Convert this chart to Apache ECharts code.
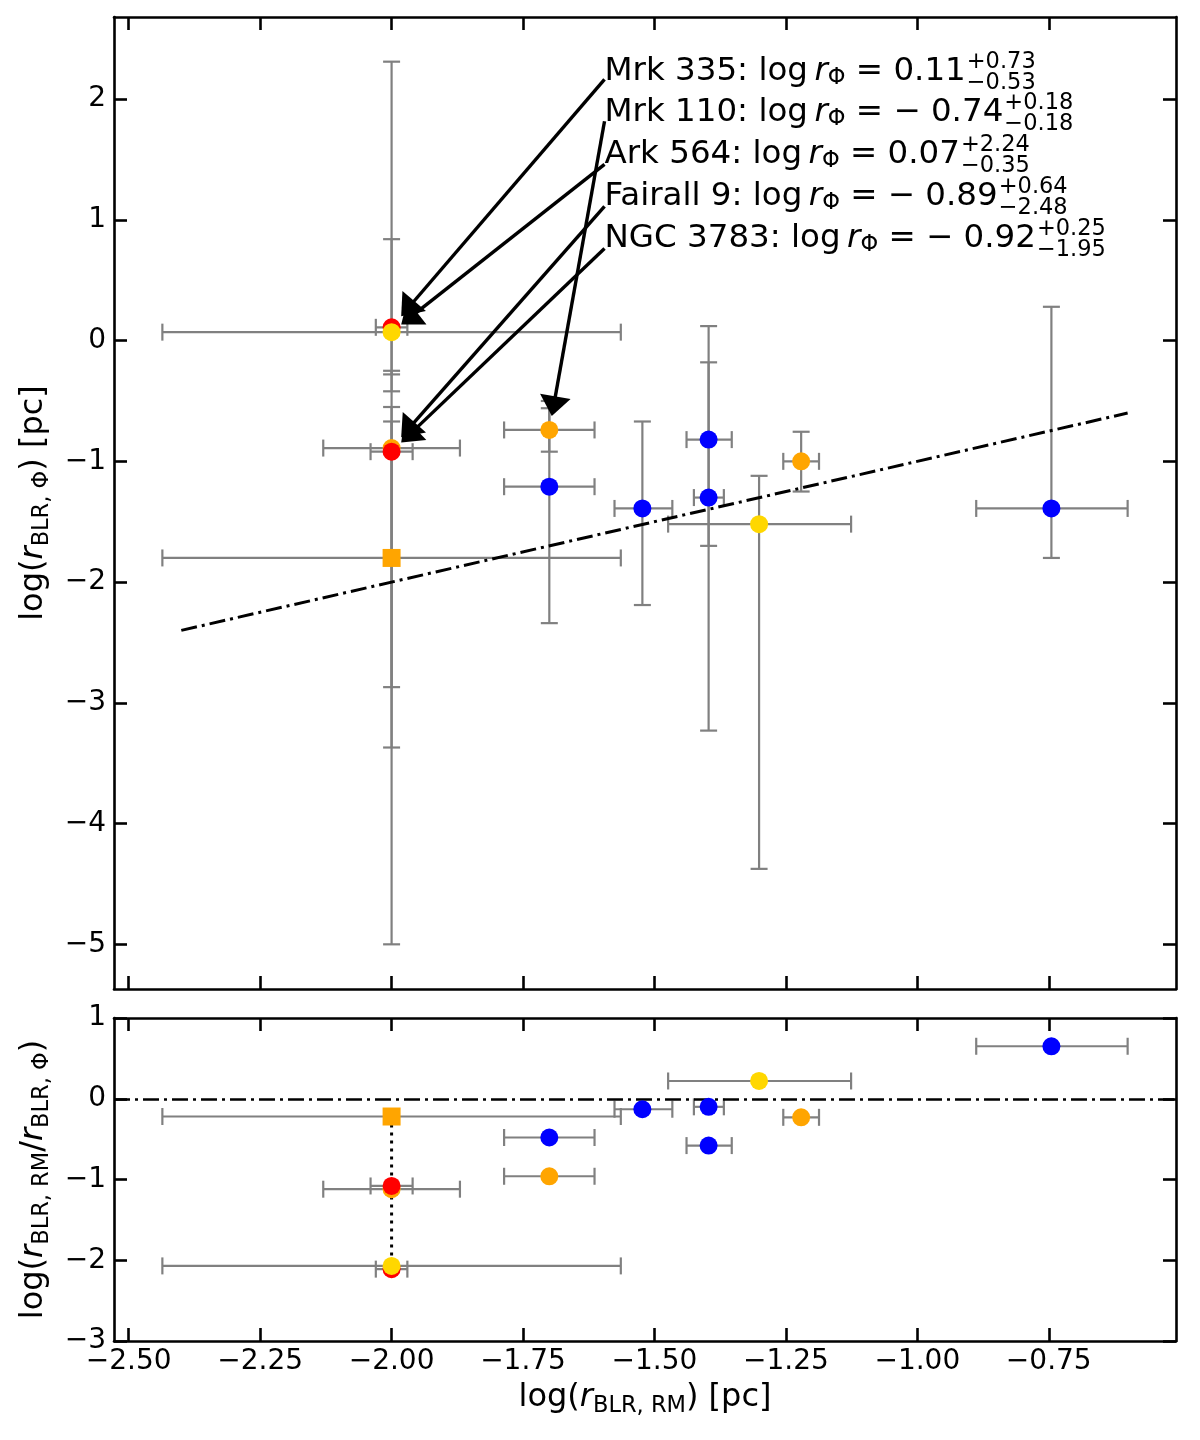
<!DOCTYPE html>
<html><head><meta charset="utf-8">
<script src="https://cdn.jsdelivr.net/npm/echarts@6/dist/echarts.min.js"></script>
<style>html,body{margin:0;padding:0;background:#fff}#c{width:1200px;height:1440px}</style>
</head><body><div id="c"></div>
<script>
// ---------------- data ----------------
const xTicks = [-2.5, -2.25, -2.0, -1.75, -1.5, -1.25, -1.0, -0.75];
const yTopTicks = [-5, -4, -3, -2, -1, 0, 1, 2];
const yBotTicks = [-3, -2, -1, 0, 1];

// blue points
const blueX       = [-1.70, -1.523, -1.397, -1.397, -0.745];
const blueXErrLo  = [0.086, 0.053, 0.042, 0.028, 0.143];
const blueXErrHi  = [0.086, 0.057, 0.044, 0.029, 0.145];
const blueY       = [-1.21, -1.39, -0.82, -1.30, -1.39];
const blueYErrLo  = [1.13, 0.80, 0.88, 1.93, 0.41];
const blueYErrHi  = [0.71, 0.72, 0.64, 1.42, 1.67];
const blueRatio   = [-0.48, -0.13, -0.58, -0.10, 0.65];

// orange circles (Fairall 9, Mrk 110, other)
const orangeX      = [-2.00, -1.70, -1.221];
const orangeXErrLo = [0.13, 0.086, 0.034];
const orangeXErrHi = [0.13, 0.086, 0.034];
const orangeY      = [-0.89, -0.74, -1.00];
const orangeYErrLo = [2.48, 0.18, 0.25];
const orangeYErrHi = [0.64, 0.18, 0.245];
const orangeRatio  = [-1.12, -0.96, -0.23];

// orange square
const squareX      = [-2.00];
const squareXErrLo = [0.436];
const squareXErrHi = [0.436];
const squareY      = [-1.80];
const squareYErrLo = [3.20];
const squareYErrHi = [1.25];
const squareRatio  = [-0.22];

// red (Mrk 335, NGC 3783)
const redX      = [-2.00, -2.00];
const redXErrLo = [0.03, 0.04];
const redXErrHi = [0.03, 0.04];
const redY      = [0.11, -0.92];
const redYErrLo = [0.53, 1.95];
const redYErrHi = [0.73, 0.25];
const redRatio  = [-2.11, -1.08];

// yellow (Ark 564, other)
const yellowX      = [-2.00, -1.301];
const yellowXErrLo = [0.436, 0.173];
const yellowXErrHi = [0.436, 0.175];
const yellowY      = [0.07, -1.52];
const yellowYErrLo = [0.35, 2.855];
const yellowYErrHi = [2.24, 0.40];
const yellowRatio  = [-2.07, 0.22];

// fitted relation and guide lines
const fitX = [-2.4, -0.6];
const fitY = [-2.4, -0.6];
const linkX = [-2.00, -2.00];
const linkY = [-0.22, -2.07];

// annotations
const annNames   = ['Mrk 335', 'Mrk 110', 'Ark 564', 'Fairall 9', 'NGC 3783'];
const annValues  = ['0.11', '\u2212 0.74', '0.07', '\u2212 0.89', '\u2212 0.92'];
const annUp      = ['+0.73', '+0.18', '+2.24', '+0.64', '+0.25'];
const annDown    = ['\u22120.53', '\u22120.18', '\u22120.35', '\u22122.48', '\u22121.95'];
const annTextX   = -1.595;
const annTextY   = [2.23, 1.885, 1.537, 1.19, 0.845];
const annTailX   = -1.595;
const annTailY   = [2.164, 1.816, 1.459, 1.111, 0.763];
const annTargetX = [-2.00, -1.70, -2.00, -2.00, -2.00];
const annTargetY = [0.11, -0.74, 0.07, -0.89, -0.92];

// ---------------- helpers ----------------
const FF = 'DejaVu Sans';
const fmtX = v => (v < 0 ? '\u2212' : '') + Math.abs(v).toFixed(2);
const fmtY = v => (v < 0 ? '\u2212' : '') + Math.abs(Math.round(v));

const mctx = document.createElement('canvas').getContext('2d');
function tw(text, size, style) {
  mctx.font = (style || 'normal') + ' ' + size + 'px "' + FF + '"';
  return mctx.measureText(text).width;
}

const groups = [
  {color: '#ffa500', symbol: 'rect', X: squareX, XL: squareXErrLo, XH: squareXErrHi, Y: squareY, YL: squareYErrLo, YH: squareYErrHi, R: squareRatio},
  {color: '#0000ff', symbol: 'circle', X: blueX, XL: blueXErrLo, XH: blueXErrHi, Y: blueY, YL: blueYErrLo, YH: blueYErrHi, R: blueRatio},
  {color: '#ffa500', symbol: 'circle', X: orangeX, XL: orangeXErrLo, XH: orangeXErrHi, Y: orangeY, YL: orangeYErrLo, YH: orangeYErrHi, R: orangeRatio},
  {color: '#ff0000', symbol: 'circle', X: redX, XL: redXErrLo, XH: redXErrHi, Y: redY, YL: redYErrLo, YH: redYErrHi, R: redRatio},
  {color: '#ffd700', symbol: 'circle', X: yellowX, XL: yellowXErrLo, XH: yellowXErrHi, Y: yellowY, YL: yellowYErrLo, YH: yellowYErrHi, R: yellowRatio}
];

const errTop = [], errBot = [];
groups.forEach(g => {
  g.X.forEach((x, i) => {
    errTop.push([x, g.Y[i], g.XL[i], g.XH[i], g.YL[i], g.YH[i]]);
    errBot.push([x, g.R[i], g.XL[i], g.XH[i], 0, 0]);
  });
});

const ERR_STYLE = {stroke: '#808080', lineWidth: 2.2};
const CAP = 8.5;
function errRender(withY) {
  return function (params, api) {
    const x = api.value(0), y = api.value(1);
    const L = api.coord([x - api.value(2), y]);
    const R = api.coord([x + api.value(3), y]);
    const ch = [
      {type: 'line', shape: {x1: L[0], y1: L[1], x2: R[0], y2: R[1]}, style: ERR_STYLE},
      {type: 'line', shape: {x1: L[0], y1: L[1] - CAP, x2: L[0], y2: L[1] + CAP}, style: ERR_STYLE},
      {type: 'line', shape: {x1: R[0], y1: R[1] - CAP, x2: R[0], y2: R[1] + CAP}, style: ERR_STYLE}
    ];
    if (withY) {
      const B = api.coord([x, y - api.value(4)]);
      const T = api.coord([x, y + api.value(5)]);
      ch.push({type: 'line', shape: {x1: B[0], y1: B[1], x2: T[0], y2: T[1]}, style: ERR_STYLE});
      ch.push({type: 'line', shape: {x1: B[0] - CAP, y1: B[1], x2: B[0] + CAP, y2: B[1]}, style: ERR_STYLE});
      ch.push({type: 'line', shape: {x1: T[0] - CAP, y1: T[1], x2: T[0] + CAP, y2: T[1]}, style: ERR_STYLE});
    }
    return {type: 'group', children: ch};
  };
}

const MAIN = 32.5, SCR = 22.5, SHRINK = 0.045;
function annRender(params, api) {
  const i = params.dataIndex;
  const tail = api.coord([annTailX, annTailY[i]]);
  const tgt = api.coord([annTargetX[i], annTargetY[i]]);
  const tip = [tgt[0] + (tail[0] - tgt[0]) * SHRINK, tgt[1] + (tail[1] - tgt[1]) * SHRINK];
  const dx = tip[0] - tail[0], dy = tip[1] - tail[1];
  const len = Math.hypot(dx, dy);
  const ux = dx / len, uy = dy / len, nx = -uy, ny = ux;
  const HL = 20, HW = 31;
  const base = [tip[0] - ux * HL, tip[1] - uy * HL];
  const tp = api.coord([annTextX, annTextY[i]]);
  const s1 = annNames[i] + ': log\u2009', s2 = 'r', s3 = '\u03a6', s4 = ' = ' + annValues[i];
  const w = tw(s1, MAIN) + tw(s2, MAIN, 'italic') + tw(s3, SCR) + tw(s4, MAIN);
  return {type: 'group', children: [
    {type: 'line', shape: {x1: tail[0], y1: tail[1], x2: base[0] + ux * 2, y2: base[1] + uy * 2},
      style: {stroke: '#000', lineWidth: 3.4}},
    {type: 'polygon', shape: {points: [tip, [base[0] + nx * HW / 2, base[1] + ny * HW / 2], [base[0] - nx * HW / 2, base[1] - ny * HW / 2]]},
      style: {fill: '#000'}},
    {type: 'text', x: tp[0], y: tp[1], style: {
      text: '{a|' + s1 + '}{i|' + s2 + '}{s|' + s3 + '}{a|' + s4 + '}',
      align: 'left', verticalAlign: 'middle', fill: '#000',
      rich: {
        a: {fontSize: MAIN, fontFamily: FF, lineHeight: 36, fill: '#000'},
        i: {fontSize: MAIN, fontFamily: FF, fontStyle: 'italic', lineHeight: 36, fill: '#000'},
        s: {fontSize: SCR, fontFamily: FF, lineHeight: 22, verticalAlign: 'bottom', fill: '#000'}
      }}},
    {type: 'text', x: tp[0] + w + 1, y: tp[1] + 1, style: {
      text: annUp[i] + '\n' + annDown[i], align: 'left', verticalAlign: 'middle',
      fontSize: SCR, fontFamily: FF, lineHeight: 21, fill: '#000'}}
  ]};
}

// ---------------- axes ----------------
const AX_LINE = {show: true, onZero: false, lineStyle: {color: '#000', width: 2.6}};
function xAx(grid, pos, labels, name) {
  return {
    type: 'value', gridIndex: grid, position: pos, min: -2.528, max: -0.508,
    splitLine: {show: false}, axisLine: AX_LINE,
    axisTick: {show: true, inside: true, length: 13, lineStyle: {color: '#000', width: 2.6}, customValues: xTicks},
    axisLabel: {show: labels, customValues: xTicks, formatter: fmtX, fontSize: 28, fontFamily: FF, color: '#000', margin: 7},
    name: name || '', nameLocation: 'middle', nameGap: 37,
    nameTextStyle: nameStyle()
  };
}
function yAx(grid, pos, labels, min, max, ticks, name) {
  return {
    type: 'value', gridIndex: grid, position: pos, min: min, max: max,
    splitLine: {show: false}, axisLine: AX_LINE,
    axisTick: {show: true, inside: true, length: 13, lineStyle: {color: '#000', width: 2.6}, customValues: ticks},
    axisLabel: {show: labels, customValues: ticks, formatter: fmtY, fontSize: 28, fontFamily: FF, color: '#000', margin: 8},
    name: name || '', nameLocation: 'middle', nameGap: 56,
    nameTextStyle: nameStyle()
  };
}
function nameStyle() {
  return {
    fontSize: 32, fontFamily: FF, color: '#000',
    rich: {
      a: {fontSize: 32, fontFamily: FF, color: '#000', lineHeight: 40},
      i: {fontSize: 32, fontFamily: FF, color: '#000', fontStyle: 'italic', lineHeight: 40},
      s: {fontSize: 22.5, fontFamily: FF, color: '#000', lineHeight: 22, verticalAlign: 'bottom'}
    }
  };
}

const scatterTop = groups.map((g, k) => ({
  type: 'scatter', xAxisIndex: 0, yAxisIndex: 0, z: 4 + k, symbol: g.symbol, symbolSize: 18,
  itemStyle: {color: g.color, opacity: 1}, data: g.X.map((x, i) => [x, g.Y[i]]), silent: true
}));
const scatterBot = groups.map((g, k) => ({
  type: 'scatter', xAxisIndex: 2, yAxisIndex: 2, z: 4 + k, symbol: g.symbol, symbolSize: 18,
  itemStyle: {color: g.color, opacity: 1}, data: g.X.map((x, i) => [x, g.R[i]]), silent: true
}));

const option = {
  animation: false,
  backgroundColor: '#fff',
  grid: [
    {left: 114, top: 17, width: 1062, height: 972},
    {left: 114, top: 1018, width: 1062, height: 323}
  ],
  xAxis: [
    xAx(0, 'bottom', false),
    xAx(0, 'top', false),
    xAx(1, 'bottom', true, '{a|log(}{i|r}{s|BLR, RM}{a|) [pc]}'),
    xAx(1, 'top', false)
  ],
  yAxis: [
    yAx(0, 'left', true, -5.37, 2.68, yTopTicks, '{a|log(}{i|r}{s|BLR, \u03a6}{a|) [pc]}'),
    yAx(0, 'right', false, -5.37, 2.68, yTopTicks),
    yAx(1, 'left', true, -3, 1, yBotTicks, '{a|log(}{i|r}{s|BLR, RM}{a|/}{i|r}{s|BLR, \u03a6}{a|)}'),
    yAx(1, 'right', false, -3, 1, yBotTicks)
  ],
  series: [
    {type: 'custom', xAxisIndex: 0, yAxisIndex: 0, z: 2, renderItem: errRender(true), data: errTop, silent: true},
    {type: 'custom', xAxisIndex: 2, yAxisIndex: 2, z: 2, renderItem: errRender(false), data: errBot, silent: true},
    {type: 'line', xAxisIndex: 0, yAxisIndex: 0, z: 3, showSymbol: false, symbol: 'none',
      data: fitX.map((x, i) => [x, fitY[i]]), lineStyle: {color: '#000', width: 3, type: [16, 5, 3, 5]}, silent: true},
    {type: 'line', xAxisIndex: 2, yAxisIndex: 2, z: 3, showSymbol: false, symbol: 'none',
      data: linkX.map((x, i) => [x, linkY[i]]), lineStyle: {color: '#000', width: 3, type: [3, 5]}, silent: true,
      markLine: {silent: true, symbol: ['none', 'none'], label: {show: false},
        lineStyle: {color: '#000', width: 2.5, type: [16, 5, 3, 5]}, data: [{yAxis: 0}]}},
    ...scatterTop,
    ...scatterBot,
    {type: 'custom', xAxisIndex: 0, yAxisIndex: 0, z: 20, renderItem: annRender,
      data: annNames.map((n, i) => [annTextX, annTextY[i]]), silent: true}
  ]
};

const chart = echarts.init(document.getElementById('c'), null, {renderer: 'canvas', width: 1200, height: 1440});
chart.setOption(option);
</script></body></html>
